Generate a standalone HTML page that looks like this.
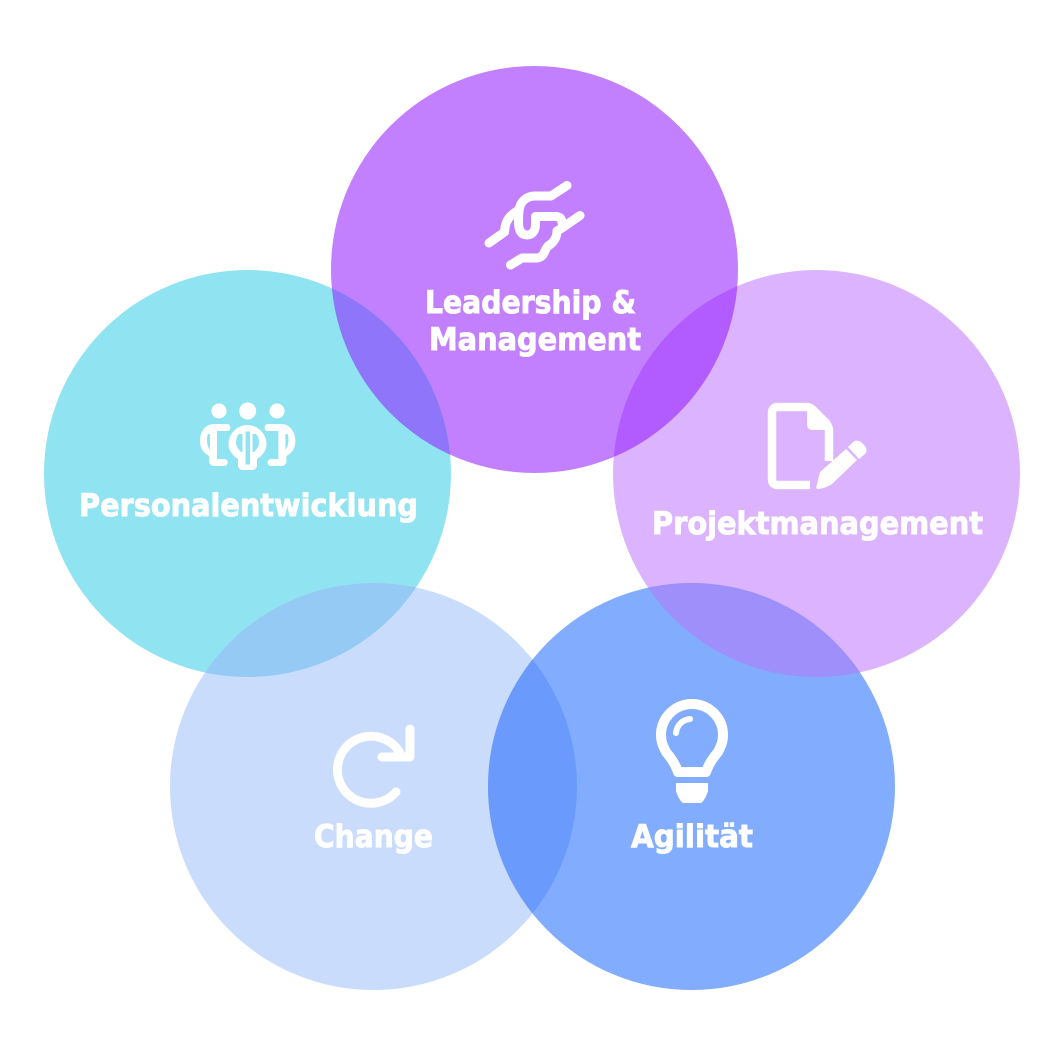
<!DOCTYPE html>
<html><head><meta charset="utf-8"><style>html,body{margin:0;padding:0;background:#fff}svg{display:block}text{font-family:"DejaVu Sans","Liberation Sans",sans-serif;font-weight:700;font-size:31px;fill:#fff;stroke:#fff;stroke-width:.9px}</style></head><body>
<svg width="1064" height="1055" viewBox="0 0 1064 1055" xmlns="http://www.w3.org/2000/svg">
<defs>
<clipPath id="ct"><circle cx="534.5" cy="269.5" r="203.5"/></clipPath>
<clipPath id="cb"><circle cx="373.5" cy="786.5" r="203.5"/></clipPath>
<clipPath id="cbr"><circle cx="691.5" cy="786.5" r="203.5"/></clipPath>
</defs>
<circle cx="534.5" cy="269.5" r="203.5" fill="#c280ff"/>
<circle cx="247.5" cy="473.5" r="203.5" fill="#90e3f1"/>
<circle cx="816.5" cy="473.5" r="203.5" fill="#dbb3ff"/>
<circle cx="373.5" cy="786.5" r="203.5" fill="#c9dcfc"/>
<circle cx="691.5" cy="786.5" r="203.5" fill="#82acfd"/>
<circle cx="247.5" cy="473.5" r="203.5" fill="#8f75fa" clip-path="url(#ct)"/>
<circle cx="816.5" cy="473.5" r="203.5" fill="#b25bff" clip-path="url(#ct)"/>
<circle cx="247.5" cy="473.5" r="203.5" fill="#95caf5" clip-path="url(#cb)"/>
<circle cx="816.5" cy="473.5" r="203.5" fill="#9e8ffb" clip-path="url(#cbr)"/>
<circle cx="373.5" cy="786.5" r="203.5" fill="#6a9bfc" clip-path="url(#cbr)"/>

<g fill="none" stroke="#fff" stroke-width="9" stroke-linecap="round" stroke-linejoin="round">
<path d="M567 185.500L551 196H535C527 196 521 201 519.500 208C518.500 213 518.500 217 518.500 222C518.500 230 521 235 527 235C533 235 535.500 230 535.500 224V216.500H556C560 216.500 562 219 562 223"/>
<path d="M580 215.500L562 228L557 231C557 238 553 243 548 246C544 250 545 257 537 258H522L510.500 265"/>
<path d="M489 243L504.500 232C505 225 506 218 517 211"/>

<path d="M810 485H778C774 485 772 483 772 479V413C772 409 774 407 778 407H806C809 407 811 408 813 410L826 423C828 425.500 829 428 829 431V461" stroke-linecap="butt" stroke-width="8.500"/>

<path d="M396 792A33.500 33.500 0 1 1 400 753"/>
<path d="M410 729V757H382"/>

<path d="M678 772C675 763 670 757 666 752C663 746 661 742 661 735A31 31 0 0 1 723 735C723 742 721 746 718 752C714 757 709 763 706 772Z" stroke-width="10"/>
<path d="M690 719C682 720 677 725 676 733" stroke-width="6"/>
</g>
<g fill="#fff">
<circle cx="219" cy="411" r="7.500"/><circle cx="247.700" cy="411" r="8.500"/><circle cx="277" cy="411" r="7.500"/>
<path d="M227 424H214C205 424 200 432 200 441C200 449 204 453 209 456V461C209 464 211 466 214 466H224C229 466 229 459 224 459H217V431H227C231.500 431 231.500 424 227 424Z"/>
<path d="M268 424H281C290 424 295.400 432 295.400 441C295.400 449 291.400 453 286.400 456V461C286.400 464 284.400 466 281.400 466H271.400C266.400 466 266.400 459 271.400 459H278.400V431H268C263.500 431 263.500 424 268 424Z"/>
<path d="M247.500 425C238 425 228.500 433 228.500 444C228.500 450 232 455 238 459V465C238 468 240 470 243 470H252C255 470 257 468 257 465V459C263 455 266.500 450 266.500 444C266.500 433 257 425 247.500 425Z"/>
<path d="M807 409L830 430H813C809 430 807 428 807 424Z"/>
<path d="M820 472L846 449L857 460L832 484C828 487 821 489 818 489C816 489 816 487 817 484Z"/>
<path d="M848 447L852 443C855 440 858 440 861 442L865 446C867 449 867 452 865 454L859 459Z"/>
<path d="M676 783H708V791C707 795 704 801 701 803H683C680 801 677 795 676 791Z"/>
</g>
<g fill="#90e3f1">
<path d="M208 434H210V450C208 447 207 444 207 441C207 438 207 436 208 434Z"/>
<path d="M287.400 434H285.400V450C287.400 447 288.400 444 288.400 441C288.400 438 288.400 436 287.400 434Z"/>
<path d="M239 434H242.500V452H241C238 449 236 446 236 443C236 439 237 436 239 434Z"/>
<path d="M256 434H252.500V452H254C257 449 259 446 259 443C259 439 258 436 256 434Z"/>
<rect x="245.500" y="431.500" width="4.500" height="33"/>
</g>

<text x="425" y="313" textLength="211" lengthAdjust="spacingAndGlyphs">Leadership &amp;</text>
<text x="429" y="350" textLength="212" lengthAdjust="spacingAndGlyphs">Management</text>
<text x="79" y="516" textLength="339" lengthAdjust="spacingAndGlyphs">Personalentwicklung</text>
<text x="652" y="534" textLength="331" lengthAdjust="spacingAndGlyphs">Projektmanagement</text>
<text x="314" y="847" textLength="119" lengthAdjust="spacingAndGlyphs">Change</text>
<text x="631" y="847" textLength="122" lengthAdjust="spacingAndGlyphs">Agilität</text>
</svg>
</body></html>
